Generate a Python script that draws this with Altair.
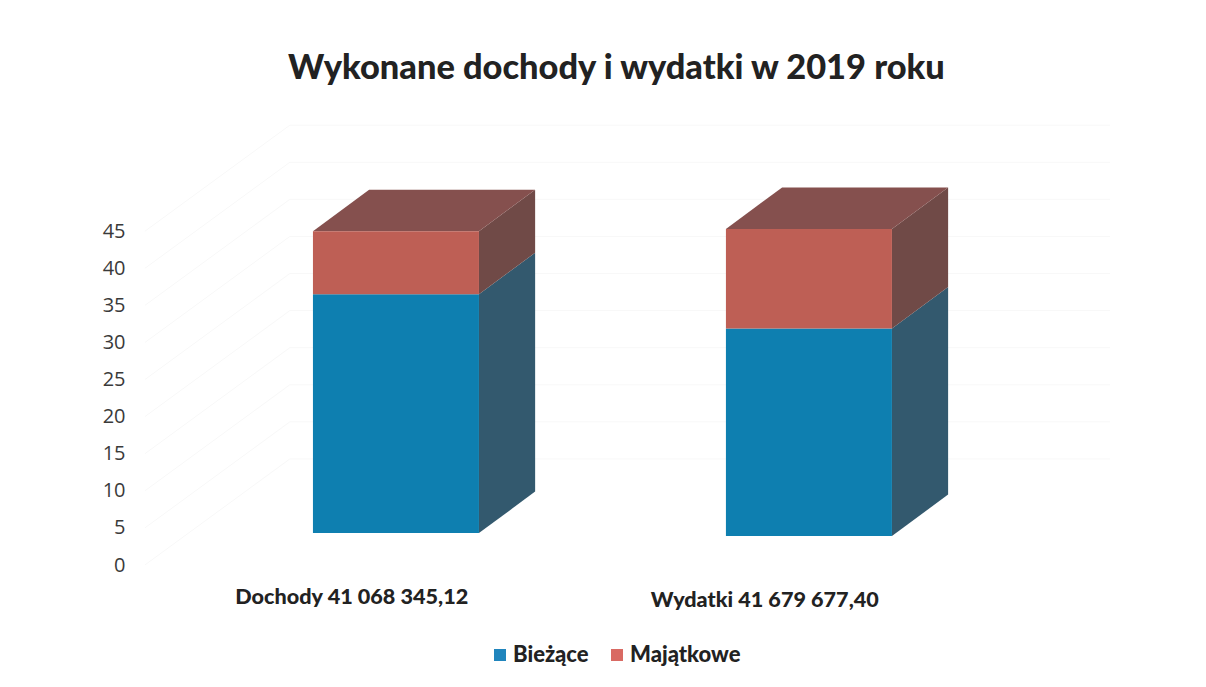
import altair as alt
import pandas as pd

TITLE = "Wykonane dochody i wydatki w 2019 roku"
series = ["Bieżące", "Majątkowe"]
legend_colors = ["#2085BD", "#D96A63"]
front_colors = {"Bieżące": "#0E7FB0", "Majątkowe": "#BE5F55"}
side_colors = {"Bieżące": "#33596E", "Majątkowe": "#704A47"}
top_color = "#85504E"
grid_color = "#F8F8F8"

categories = ["Dochody 41 068 345,12", "Wydatki 41 679 677,40"]
base_values = [4.3, 3.9]
biezace_tops = [36.5, 31.9]
majatkowe_tops = [45.0, 45.3]
y_ticks = [0, 5, 10, 15, 20, 25, 30, 35, 40, 45]

# drawing geometry in data units (1 x unit = spacing of the two columns)
bar_w = 0.402
depth_x = 0.136
depth_y = 5.6
label_shift = 0.094
X_DOM = [-0.443, 1.93]
Y_DOM = [0, 60]
grid_x0, grid_xb, grid_dy = -0.407, -0.056, 14.3

W, H = 980, 445

X = lambda f: alt.X(f, type="quantitative", scale=alt.Scale(domain=X_DOM, nice=False, zero=False), axis=None)
Y = lambda f: alt.Y(f, type="quantitative", scale=alt.Scale(domain=Y_DOM, nice=False),
                    axis=alt.Axis(values=y_ticks, title=None, grid=False, domain=False, ticks=False,
                                  labelFont="Open Sans", labelFontSize=20, labelColor="#3A3A3A",
                                  labelPadding=5))
Y2 = lambda f: alt.Y2(f)

front, side, top, grid = [], [], [], []
for i, (b, m, t) in enumerate(zip(base_values, biezace_tops, majatkowe_tops)):
    L, R = i, i + bar_w
    for name, lo, hi in [("Bieżące", b, m), ("Majątkowe", m, t)]:
        front.append(dict(x=L, x2=R, y=lo, y2=hi, c=front_colors[name], s=name))
        side.append(dict(k=f"{i}{name}", x=R, y=lo, y2=hi, c=side_colors[name]))
        side.append(dict(k=f"{i}{name}", x=R + depth_x, y=lo + depth_y, y2=hi + depth_y, c=side_colors[name]))
    for x, y, y2 in [(L, t, t), (L + depth_x, t, t + depth_y), (R, t, t + depth_y), (R + depth_x, t + depth_y, t + depth_y)]:
        top.append(dict(k=i, x=x, y=y, y2=y2))
for v in y_ticks:
    for x, y in [(grid_x0, v), (grid_xb, v + grid_dy), (X_DOM[1], v + grid_dy)]:
        grid.append(dict(k=v, x=x, y=y))

label_df = pd.DataFrame({"x": [i + label_shift for i in range(2)], "t": categories, "v": [-4.5, -4.8]})
legend_df = pd.DataFrame({"s": series, "x": [0, 0], "y": [0, 0]})

grid_layer = alt.Chart(pd.DataFrame(grid)).mark_line(color=grid_color, strokeWidth=1).encode(
    x=X("x"), y=Y("y"), detail="k:N", order="x:Q")
front_layer = alt.Chart(pd.DataFrame(front)).mark_rect().encode(
    x=X("x"), x2=alt.X2("x2"), y=Y("y"), y2=Y2("y2"), color=alt.Color("c:N", scale=None))
side_layer = alt.Chart(pd.DataFrame(side)).mark_area(opacity=1).encode(
    x=X("x"), y=Y("y"), y2=Y2("y2"), detail="k:N", color=alt.Color("c:N", scale=None))
top_layer = alt.Chart(pd.DataFrame(top)).mark_area(color=top_color, opacity=1).encode(
    x=X("x"), y=Y("y"), y2=Y2("y2"), detail="k:N")
label_layer = alt.Chart(label_df).mark_text(font="Lato", fontWeight=900, fontSize=21.6, color="#222222", baseline="middle").encode(
    x=X("x"), y=Y("v"), text="t:N")
legend_layer = alt.Chart(legend_df).mark_square(size=0, opacity=1).encode(
    x=X("x"), y=Y("y"),
    color=alt.Color("s:N", sort=series, scale=alt.Scale(domain=series, range=legend_colors),
                    legend=alt.Legend(title=None, orient="none", legendX=359, legendY=524, direction="horizontal",
                                      columns=2, columnPadding=17, symbolType="square", symbolSize=144,
                                      symbolStrokeWidth=0, symbolOpacity=1,
                                      labelFont="Lato", labelFontWeight=900, labelFontSize=22,
                                      labelColor="#222222", labelOffset=2)))

chart = alt.layer(grid_layer, side_layer, top_layer, front_layer, label_layer, legend_layer).resolve_scale(
    color="independent"
).properties(
    width=W, height=H,
    background="white",
    title=alt.TitleParams(TITLE, anchor="start", frame="group", dx=158, offset=34, font="Lato",
                          fontSize=34.4, fontWeight=900, color="#222222"),
    autosize=alt.AutoSizeParams(type="none"),
    padding={"left": 122, "top": 112, "right": 88, "bottom": 114},
).configure_view(stroke=None)

chart.save("out.html", embed_options={"renderer": "svg", "actions": False})
